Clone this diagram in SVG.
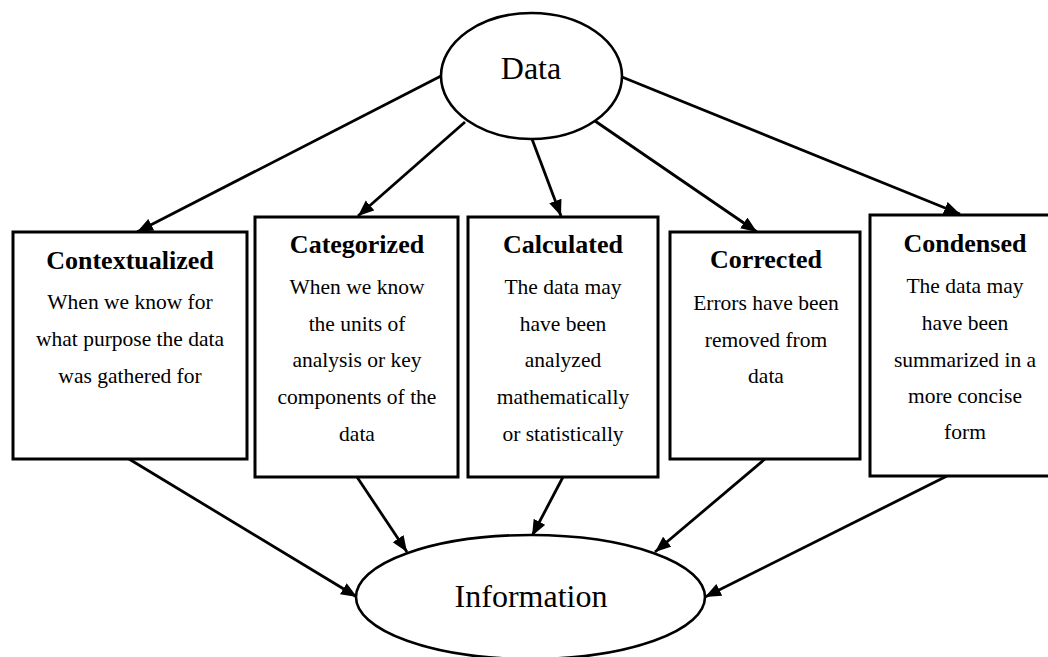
<svg xmlns="http://www.w3.org/2000/svg" width="1048" height="657" viewBox="0 0 1048 657">
<defs>
<marker id="ah" markerUnits="userSpaceOnUse" markerWidth="18" markerHeight="14" refX="16" refY="6.5" orient="auto">
<path d="M0,0 L16,6.5 L0,13 z" fill="#000"/>
</marker>
<style>
.box{fill:#fff;stroke:#000;stroke-width:3}
.ell{fill:#fff;stroke:#000;stroke-width:2.6}
.con{stroke:#000;stroke-width:2.8;fill:none;marker-end:url(#ah)}
.t{font-family:"Liberation Serif","Times New Roman",serif;font-size:26px;font-weight:bold;text-anchor:middle;fill:#000}
.b{font-family:"Liberation Serif","Times New Roman",serif;font-size:21.5px;text-anchor:middle;fill:#000}
.big{font-family:"Liberation Serif","Times New Roman",serif;font-size:32px;text-anchor:middle;fill:#000}
</style>
</defs>
<rect width="1048" height="657" fill="#fff"/>
<g id="connectors">
<line class="con" x1="441" y1="76" x2="137" y2="232"/>
<line class="con" x1="465" y1="122" x2="358" y2="216"/>
<line class="con" x1="532" y1="139" x2="561" y2="216"/>
<line class="con" x1="595" y1="121" x2="757" y2="232"/>
<line class="con" x1="622" y1="77" x2="960" y2="214"/>
<line class="con" x1="129" y1="459" x2="357" y2="597"/>
<line class="con" x1="357" y1="477" x2="407" y2="552"/>
<line class="con" x1="563" y1="477" x2="532" y2="536"/>
<line class="con" x1="765" y1="459" x2="655" y2="552"/>
<line class="con" x1="947" y1="476" x2="705" y2="597"/>
</g>
<g id="data">
<ellipse class="ell" cx="531.5" cy="76" rx="90.5" ry="63"/>
<text class="big" x="531" y="79" font-size="31">Data</text>
</g>
<g id="information">
<ellipse class="ell" cx="530.5" cy="597" rx="174.5" ry="62"/>
<text class="big" x="531" y="607">Information</text>
</g>
<g id="contextualized">
<rect class="box" x="13" y="232" width="234" height="227"/>
<text class="t" x="130" y="269">Contextualized</text>
<text class="b" x="130" y="309">When we know for</text>
<text class="b" x="130" y="346">what purpose the data</text>
<text class="b" x="130" y="383">was gathered for</text>
</g>
<g id="categorized">
<rect class="box" x="255" y="217" width="203" height="260"/>
<text class="t" x="357" y="253">Categorized</text>
<text class="b" x="357" y="294">When we know</text>
<text class="b" x="357" y="331">the units of</text>
<text class="b" x="357" y="367">analysis or key</text>
<text class="b" x="357" y="404">components of the</text>
<text class="b" x="357" y="441">data</text>
</g>
<g id="calculated">
<rect class="box" x="468" y="217" width="190" height="260"/>
<text class="t" x="563" y="253">Calculated</text>
<text class="b" x="563" y="294">The data may</text>
<text class="b" x="563" y="331">have been</text>
<text class="b" x="563" y="367">analyzed</text>
<text class="b" x="563" y="404">mathematically</text>
<text class="b" x="563" y="441">or statistically</text>
</g>
<g id="corrected">
<rect class="box" x="670" y="232" width="190" height="227"/>
<text class="t" x="766" y="268">Corrected</text>
<text class="b" x="766" y="310">Errors have been</text>
<text class="b" x="766" y="347">removed from</text>
<text class="b" x="766" y="383">data</text>
</g>
<g id="condensed">
<rect class="box" x="870" y="215" width="190" height="261"/>
<text class="t" x="965" y="252">Condensed</text>
<text class="b" x="965" y="293">The data may</text>
<text class="b" x="965" y="330">have been</text>
<text class="b" x="965" y="367">summarized in a</text>
<text class="b" x="965" y="403">more concise</text>
<text class="b" x="965" y="439">form</text>
</g>
</svg>
